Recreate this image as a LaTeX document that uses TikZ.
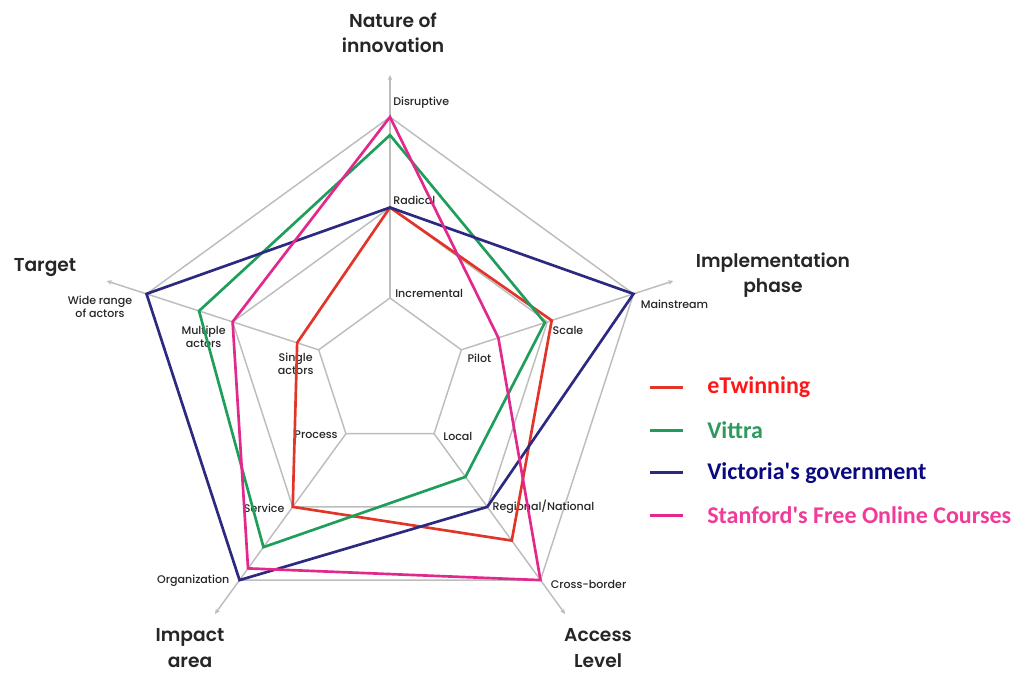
\documentclass[tikz,border=0pt]{standalone}
\usepackage{fontspec}
\setmainfont{Poppins}
\newfontfamily\tickfont{Poppins}[UprightFont=* Medium]
\newfontfamily\titlefont{Poppins}[UprightFont=* SemiBold]
\newfontfamily\legendfont{Carlito}
\usetikzlibrary{arrows.meta}

\definecolor{etline}{HTML}{E2352A}
\definecolor{viline}{HTML}{1E9E5A}
\definecolor{vgline}{HTML}{2C2A80}
\definecolor{sfline}{HTML}{E2288C}
\definecolor{ettext}{HTML}{FF1616}
\definecolor{vitext}{HTML}{2E9A5E}
\definecolor{vgtext}{HTML}{0A0A80}
\definecolor{sftext}{HTML}{F03C98}
\definecolor{gridgray}{HTML}{BDBDBD}

\tikzset{
	grid line/.style  = {draw=gridgray, line width=1.1pt},
	axis line/.style  = {grid line, -{Stealth[length=4pt, width=3.5pt]}},
	tick/.style       = {font=\tickfont\fontsize{8.3}{10}\selectfont, text=black!85, inner sep=0pt, align=center},
	title/.style      = {font=\titlefont\fontsize{14}{19}\selectfont, text=black!85, inner sep=0pt, align=center},
	series/.style     = {line width=2pt, line join=miter},
	legend line/.style = {line width=2pt},
	legend/.style     = {font=\legendfont\bfseries\fontsize{18}{21}\selectfont, anchor=west, inner sep=0pt}
}

\begin{document}
\begin{tikzpicture}[x=0.75pt, y=0.75pt]
	\useasboundingbox (0,0) rectangle (1019,675);
	
	% centre of the radar, grid levels and axis ends
	\coordinate (c) at (390,302);
	\foreach \i in {0,...,4}{
		\foreach \l/\r in {1/75,2/165.5,3/256}
		\coordinate (g\l-\i) at ([shift={(c)}]{90+72*\i}:\r);
		\coordinate (e\i) at ([shift={(c)}]{90+72*\i}:298);
	}
	
	% the three pentagons
	\foreach \l in {1,2,3}
	\draw[grid line] (g\l-0) -- (g\l-1) -- (g\l-2) -- (g\l-3) -- (g\l-4) -- cycle;
	
	% axes from the inner pentagon outwards
	\foreach \i in {0,...,4}
	\draw[axis line] (g1-\i) -- (e\i);
	
	% scale labels on every axis
	\node[tick, anchor=west] (t-dis) at ([shift={(3,14)}]g3-0) {Disruptive};
	\node[tick, anchor=west] (t-rad) at ([shift={(3,7)}]g2-0) {Radical};
	\node[tick, anchor=west] (t-inc) at ([shift={(5,5)}]g1-0) {Incremental};
	\node[tick, anchor=west] (t-mai) at ([shift={(7,-10)}]g3-4) {Mainstream};
	\node[tick, anchor=west] (t-sca) at ([shift={(5,-9)}]g2-4) {Scale};
	\node[tick, anchor=west] (t-pil) at ([shift={(6,-8)}]g1-4) {Pilot};
	\node[tick, anchor=west] (t-loc) at ([shift={(9,-3)}]g1-3) {Local};
	\node[tick, anchor=west] (t-reg) at ([shift={(5,0)}]g2-3) {Regional/National};
	\node[tick, anchor=west] (t-cro) at ([shift={(10,-4)}]g3-3) {Cross-border};
	\node[tick, anchor=east] (t-ser) at ([shift={(-8,-1)}]g2-2) {Service};
	\node[tick, anchor=east] (t-org) at ([shift={(-10,-1)}]g3-2) {Organization};
	\node[tick, anchor=east] (t-pro) at ([shift={(-8,-1)}]g1-2) {Process};
	\node[tick] (t-sin) at ([shift={(-23,-14)}]g1-1) {Single\\actors};
	\node[tick] (t-mul) at ([shift={(-29,-15)}]g2-1) {Multiple\\actors};
	\node[tick, anchor=east] (t-wid) at ([shift={(-14,-13)}]g3-1) {Wide range\\of actors};
	
	% axis titles
	\node[title] (n-nat) at (393,642) {Nature of\\innovation};
	\node[title] (n-tar) at (45,407) {Target};
	\node[title] (n-imp) at (773,400) {Implementation\\phase};
	\node[title] (n-are) at (190,27) {Impact\\area};
	\node[title] (n-acc) at (598,27) {Access\\Level};
	
	% one closed line per case
	\foreach \s/\col/\v in {et/etline/{2,1.25,2,2.46,2.05}, vi/viline/{2.8,2.39,2.55,1.59,1.97}, vg/vgline/{2,3,3,2,3}, sf/sfline/{3,2,2.84,3,1.43}}{
		\foreach \x [count=\i from 0] in \v
		\coordinate (\s\i) at ([shift={(c)}]{90+72*\i}:{90.5*\x-15.5});
		\draw[series, \col] (\s0) -- (\s1) -- (\s2) -- (\s3) -- (\s4) -- cycle;
	}
	
	% legend
	\foreach \col/\txt [count=\k] in {et/eTwinning, vi/Vittra, vg/Victoria's government, sf/Stanford's Free Online Courses}{
		\node[legend, text=\col text] (leg\k) at (707,330-42.6*\k) {\txt};
		\draw[legend line, \col line] (650,330-42.6*\k) -- (683,330-42.6*\k);
	}
	
\end{tikzpicture}
\end{document}
